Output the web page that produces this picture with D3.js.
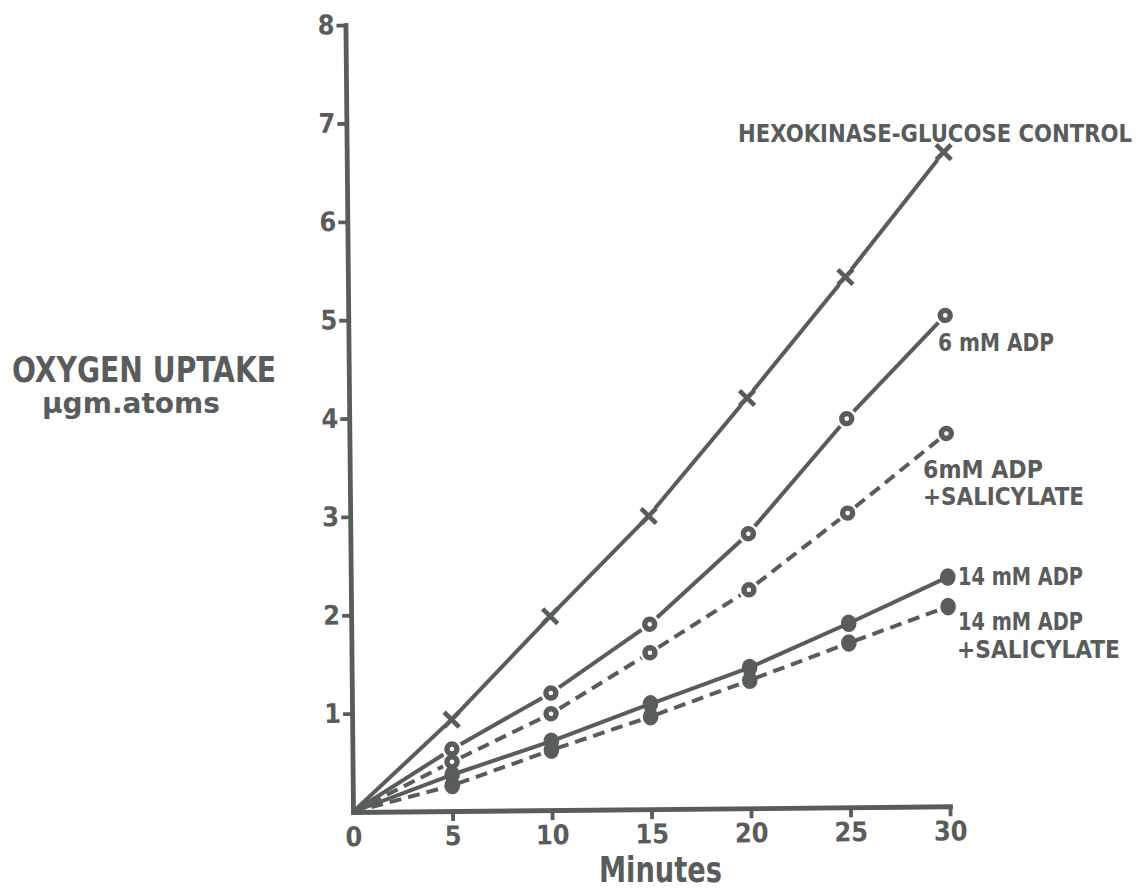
<!DOCTYPE html>
<html>
<head>
<meta charset="utf-8">
<script src="https://cdn.jsdelivr.net/npm/d3@7/dist/d3.min.js"></script>
<style>
  html, body { margin: 0; padding: 0; background: #ffffff; }
  svg { display: block; }
  text { font-family: "Liberation Sans Narrow", "DejaVu Sans Condensed", "Liberation Sans", sans-serif; font-weight: bold; fill: #585c5a; }
</style>
</head>
<body>
<script>
// ---- data ----
const minutes = [0, 5, 10, 15, 20, 25, 30];
const hexokinaseControl = [0, 0.93, 1.97, 2.98, 4.17, 5.39, 6.65];
const adp6 = [0, 0.63, 1.19, 1.88, 2.79, 3.95, 4.99];
const adp6Salicylate = [0, 0.50, 0.98, 1.59, 2.22, 2.99, 3.79];
const adp14 = [0, 0.37, 0.70, 1.07, 1.43, 1.87, 2.33];
const adp14Salicylate = [0, 0.26, 0.61, 0.94, 1.30, 1.67, 2.03];
const xTickValues = [0, 5, 10, 15, 20, 25, 30];
const yTickValues = [1, 2, 3, 4, 5, 6, 7, 8];
const xTitle = "Minutes";
const yTitle1 = "OXYGEN UPTAKE";
const yTitle2 = "µgm.atoms";

const INK = "#585c5a";
const W = 1141, H = 890;

const svg = d3.select("body").append("svg").attr("width", W).attr("height", H);
svg.append("rect").attr("width", W).attr("height", H).attr("fill", "#fff");

const x = d3.scaleLinear().domain([0, 30]).range([353, 950]);
const y = d3.scaleLinear().domain([0, 8]).range([812, 25]);

// the scanned figure is slightly rotated
const plot = svg.append("g").attr("transform", `rotate(-0.55, ${x(0)}, ${y(0)})`);

// axes
const yAxis = d3.axisLeft(y).tickValues(yTickValues).tickSize(9).tickSizeOuter(0).tickPadding(2).tickFormat(d3.format("d"));
const xAxis = d3.axisBottom(x).tickValues(xTickValues).tickSize(10).tickSizeOuter(0).tickPadding(5).tickFormat(d3.format("d"));

const gy = plot.append("g").attr("transform", `translate(${x(0)},0)`).call(yAxis);
const gx = plot.append("g").attr("transform", `translate(0,${y(0)})`).call(xAxis);

[gx, gy].forEach(g => {
  g.select(".domain").attr("stroke", INK).attr("stroke-width", 4.8).attr("stroke-linecap", "square");
  g.selectAll(".tick line").attr("stroke", INK).attr("stroke-width", 3.8);
  g.selectAll(".tick text").attr("font-size", 27).attr("fill", INK)
    .style("font-family", '"Liberation Sans Narrow", "DejaVu Sans Condensed", sans-serif').style("font-weight", "bold");
});
gx.selectAll(".tick").filter(d => d === 0).select("line").remove();

// series
const series = [
  { name: "hex", values: hexokinaseControl, marker: "cross", dashed: false },
  { name: "adp6", values: adp6, marker: "open", dashed: false },
  { name: "adp6s", values: adp6Salicylate, marker: "open", dashed: true },
  { name: "adp14", values: adp14, marker: "filled", dashed: false },
  { name: "adp14s", values: adp14Salicylate, marker: "filled", dashed: true }
];
const gapFor = { cross: 10, open: 10, filled: 6 };

series.forEach(s => {
  const pts = minutes.map((m, i) => [x(m), y(s.values[i])]);
  const g = plot.append("g");
  for (let i = 1; i < pts.length; i++) {
    const [x0, y0] = pts[i - 1], [x1, y1] = pts[i];
    const dx = x1 - x0, dy = y1 - y0, len = Math.hypot(dx, dy);
    const ux = dx / len, uy = dy / len;
    const g0 = i - 1 === 0 ? 0 : gapFor[s.marker];
    const g1 = gapFor[s.marker];
    g.append("line")
      .attr("x1", x0 + ux * g0).attr("y1", y0 + uy * g0)
      .attr("x2", x1 - ux * g1).attr("y2", y1 - uy * g1)
      .attr("stroke", INK).attr("stroke-width", 4)
      .attr("stroke-linecap", "butt")
      .attr("stroke-dasharray", s.dashed ? "12,7" : null);
  }
  const mk = g.selectAll("g.mk").data(pts.slice(1)).join("g")
    .attr("transform", d => `translate(${d[0]},${d[1]})`);
  if (s.marker === "cross") {
    mk.append("path").attr("d", "M-7.5,-7.5L7.5,7.5M-7.5,7.5L7.5,-7.5")
      .attr("stroke", INK).attr("stroke-width", 4.6).attr("fill", "none");
  } else if (s.marker === "open") {
    mk.append("circle").attr("r", 5).attr("fill", "#fff").attr("stroke", INK).attr("stroke-width", 5.4);
  } else {
    mk.append("ellipse").attr("rx", 7.8).attr("ry", 8.8).attr("fill", INK);
  }
});

// series labels
const labels = [
  { t: "HEXOKINASE-GLUCOSE CONTROL", x: 738, y: 142, w: 394, fs: 24 },
  { t: "6 mM ADP", x: 938, y: 351, w: 116, fs: 25 },
  { t: "6mM ADP", x: 923, y: 478, w: 120, fs: 25 },
  { t: "+SALICYLATE", x: 923, y: 505, w: 161, fs: 25 },
  { t: "14 mM ADP", x: 958, y: 585, w: 125, fs: 25 },
  { t: "14 mM ADP", x: 958, y: 630, w: 125, fs: 25 },
  { t: "+SALICYLATE", x: 957, y: 658, w: 163, fs: 25 }
];
svg.append("g").selectAll("text").data(labels).join("text")
  .attr("x", d => d.x).attr("y", d => d.y)
  .attr("font-size", d => d.fs)
  .attr("textLength", d => d.w).attr("lengthAdjust", "spacingAndGlyphs")
  .text(d => d.t);

// axis titles
svg.append("text").attr("x", 599).attr("y", 882).attr("font-size", 36)
  .attr("textLength", 123).attr("lengthAdjust", "spacingAndGlyphs").text(xTitle);
svg.append("text").attr("x", 12).attr("y", 382).attr("font-size", 36)
  .attr("textLength", 264).attr("lengthAdjust", "spacingAndGlyphs").text(yTitle1);
svg.append("text").attr("x", 42).attr("y", 413).attr("font-size", 28)
  .attr("textLength", 178).attr("lengthAdjust", "spacingAndGlyphs").text(yTitle2);
</script>
</body>
</html>
